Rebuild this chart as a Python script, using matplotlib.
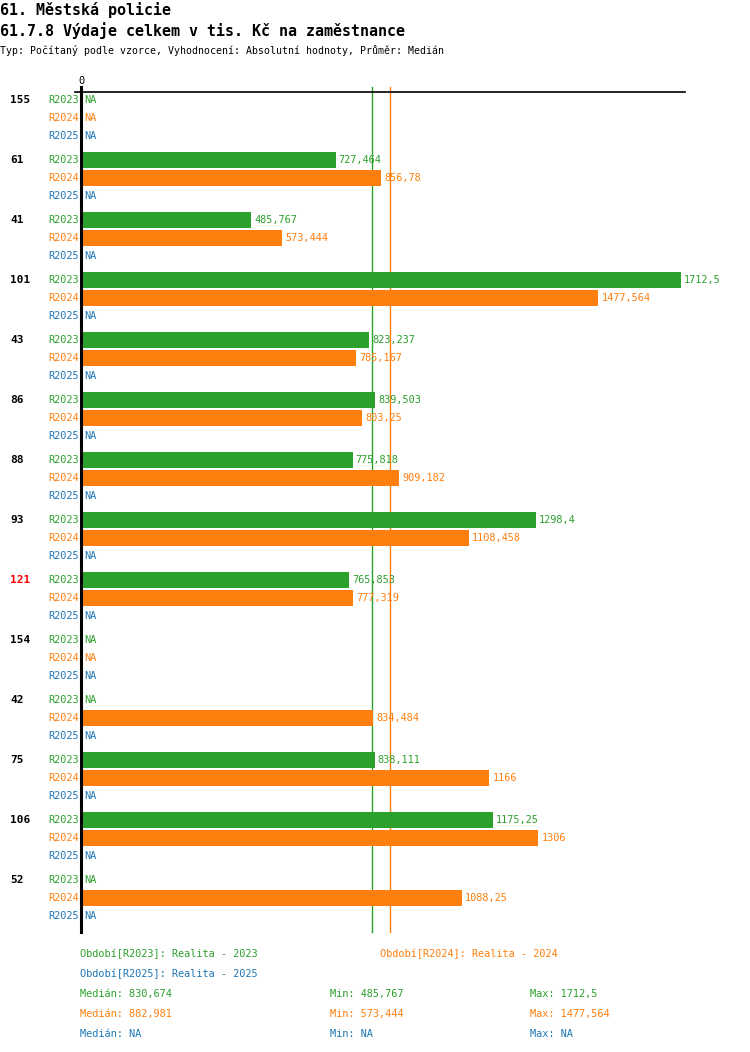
import matplotlib
matplotlib.use("Agg")
import matplotlib.pyplot as plt

groups = ['155', '61', '41', '101', '43', '86', '88', '93', '121', '154', '42', '75', '106', '52']
highlight = '121'
r2023 = [None, 727.464, 485.767, 1712.5, 823.237, 839.503, 775.818, 1298.4, 765.853, None, None, 838.111, 1175.25, None]
r2024 = [None, 856.78, 573.444, 1477.564, 785.167, 803.25, 909.182, 1108.458, 777.319, None, 834.484, 1166, 1306, 1088.25]
r2025 = [None] * 14
series_names = ['R2023', 'R2024', 'R2025']
series_values = [r2023, r2024, r2025]
series_colors = ['#2ca02c', '#ff7f0e', '#1f77b4']
medians = [830.674, 882.981, None]
mins = [485.767, 573.444, None]
maxs = [1712.5, 1477.564, None]
period_labels = ['Období[R2023]: Realita - 2023', 'Období[R2024]: Realita - 2024', 'Období[R2025]: Realita - 2025']

title1 = '61. Městská policie'
title2 = '61.7.8 Výdaje celkem v tis. Kč na zaměstnance'
subtitle = 'Typ: Počítaný podle vzorce, Vyhodnocení: Absolutní hodnoty, Průměr: Medián'

W, H = 750, 1052
FONT = ['DejaVu Sans Mono']
plt.rcParams['font.family'] = FONT
FS = 7.4

def fmt(v):
    if v is None:
        return 'NA'
    s = ('%.3f' % v).rstrip('0').rstrip('.')
    return s.replace('.', ',')

fig = plt.figure(figsize=(W / 100, H / 100), dpi=100)

def fx(px):
    return px / W

def fy(py):
    return 1 - py / H

def ftext(x, y, s, **kw):
    fig.text(fx(x), fy(y), s, **kw)

# header
ftext(0, 10, title1, fontsize=10.8, fontweight='bold', va='center', ha='left')
ftext(0, 31, title2, fontsize=10.8, fontweight='bold', va='center', ha='left')
ftext(0, 51, subtitle, fontsize=7.15, va='center', ha='left')

# plot axes in pixel layout
ax_left, ax_right, ax_top, ax_bot = 81, 685, 92, 932
ax = fig.add_axes([fx(ax_left), fy(ax_bot), fx(ax_right - ax_left), (ax_bot - ax_top) / H])
scale = 0.3502
ax.set_xlim(0, (ax_right - ax_left) / scale)
ax.set_ylim(ax_bot - ax_top, 0)
ax.axis('off')

group_step, row_step, first = 60, 18, 8
for gi, g in enumerate(groups):
    y0 = first + gi * group_step
    ax.text(-71 / scale, y0, g, fontsize=8, fontweight='bold', va='center', ha='left',
            color='red' if g == highlight else 'black', clip_on=False)
    for si, (name, vals, col) in enumerate(zip(series_names, series_values, series_colors)):
        y = y0 + si * row_step
        ax.text(-2 / scale, y, name, fontsize=FS, va='center', ha='right', color=col, clip_on=False)
        v = vals[gi]
        if v is None:
            ax.text(3 / scale, y, 'NA', fontsize=FS, va='center', ha='left', color=col)
        else:
            ax.barh(y, v, height=16, left=0, color=col, zorder=3)
            ax.text(v + 3 / scale, y, fmt(v), fontsize=FS, va='center', ha='left', color=col, zorder=4,
                    clip_on=False)

# median lines
for m, col in zip(medians, series_colors):
    if m is not None:
        ax.plot([m, m], [-5, ax_bot - ax_top], color=col, lw=1, zorder=2, clip_on=False)

# axis lines
ax.plot([-6 / scale, (ax_right - ax_left) / scale], [0, 0], color='black', lw=1.2, zorder=5, clip_on=False)
ax.plot([0, 0], [-5, ax_bot - ax_top], color='black', lw=2.2, zorder=5, clip_on=False)
ax.text(0, -11, '0', fontsize=FS, ha='center', va='center', clip_on=False)

# footer
ftext(80, 954, period_labels[0], fontsize=FS, color=series_colors[0], va='center')
ftext(380, 954, period_labels[1], fontsize=FS, color=series_colors[1], va='center')
ftext(80, 974, period_labels[2], fontsize=FS, color=series_colors[2], va='center')
for i in range(3):
    y = 994 + i * 20
    ftext(80, y, 'Medián: ' + fmt(medians[i]), fontsize=FS, color=series_colors[i], va='center')
    ftext(330, y, 'Min: ' + fmt(mins[i]), fontsize=FS, color=series_colors[i], va='center')
    ftext(530, y, 'Max: ' + fmt(maxs[i]), fontsize=FS, color=series_colors[i], va='center')

fig.savefig('out.png', dpi=100, facecolor='white')
